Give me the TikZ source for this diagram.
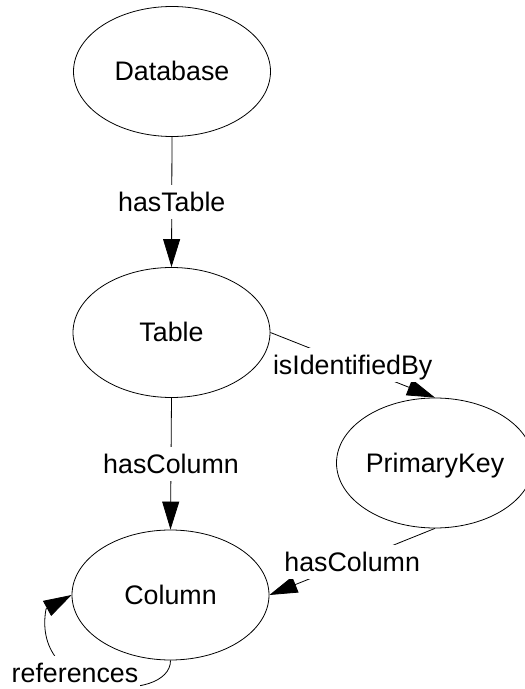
\documentclass[tikz,border=0pt]{standalone}
\usepackage{fontspec}
\setmainfont{Liberation Sans}
\usetikzlibrary{arrows.meta,shapes.geometric,backgrounds}

\begin{document}
\begin{tikzpicture}[x=1pt,y=1pt,
  every node/.style={font=\fontsize{26.8}{32}\selectfont},
  entity/.style={draw, ellipse, line width=0.8pt, minimum width=197pt,
    minimum height=130pt, inner sep=0pt, text height=19pt, text depth=0pt},
  rel/.style={draw, line width=0.8pt, -{Triangle[length=28pt,width=17pt]}},
  lbl/.style={fill=white, inner xsep=2pt, inner ysep=2.5pt,
    text height=24pt, text depth=5pt}
]
\useasboundingbox (0,0) rectangle (525,689);

% classes of the schema
\node[entity] (db)  at (172,617.5) {Database};
\node[entity] (tb)  at (171.5,356.5) {Table};
\node[entity] (pk)  at (435,226) {PrimaryKey};
\node[entity] (col) at (170.5,94) {Column};

% relations, kept underneath the ellipse outlines
\begin{scope}[on background layer]
  \fill[white] (0,0) rectangle (525,689);
  \draw[rel] (db.south) -- node[lbl] (lhastable) {hasTable} (tb.north);
  \draw[rel] (tb.south) -- node[lbl] (lhascol) {hasColumn} (col.north);
  \draw[rel] (tb.east) -- node[lbl] (lident) {isIdentifiedBy} (pk.north);
  \draw[rel] (pk.south) -- node[lbl] (lpkcol) {hasColumn} (col.east);
  \coordinate (loopend) at (46,80);
  \draw[rel] (col.south) .. controls (171,-15) and (30,-10) .. (loopend) -- (col.west);
  \node[lbl, anchor=base] (lrefs) at (75,6) {references};
\end{scope}
\end{tikzpicture}
\end{document}
